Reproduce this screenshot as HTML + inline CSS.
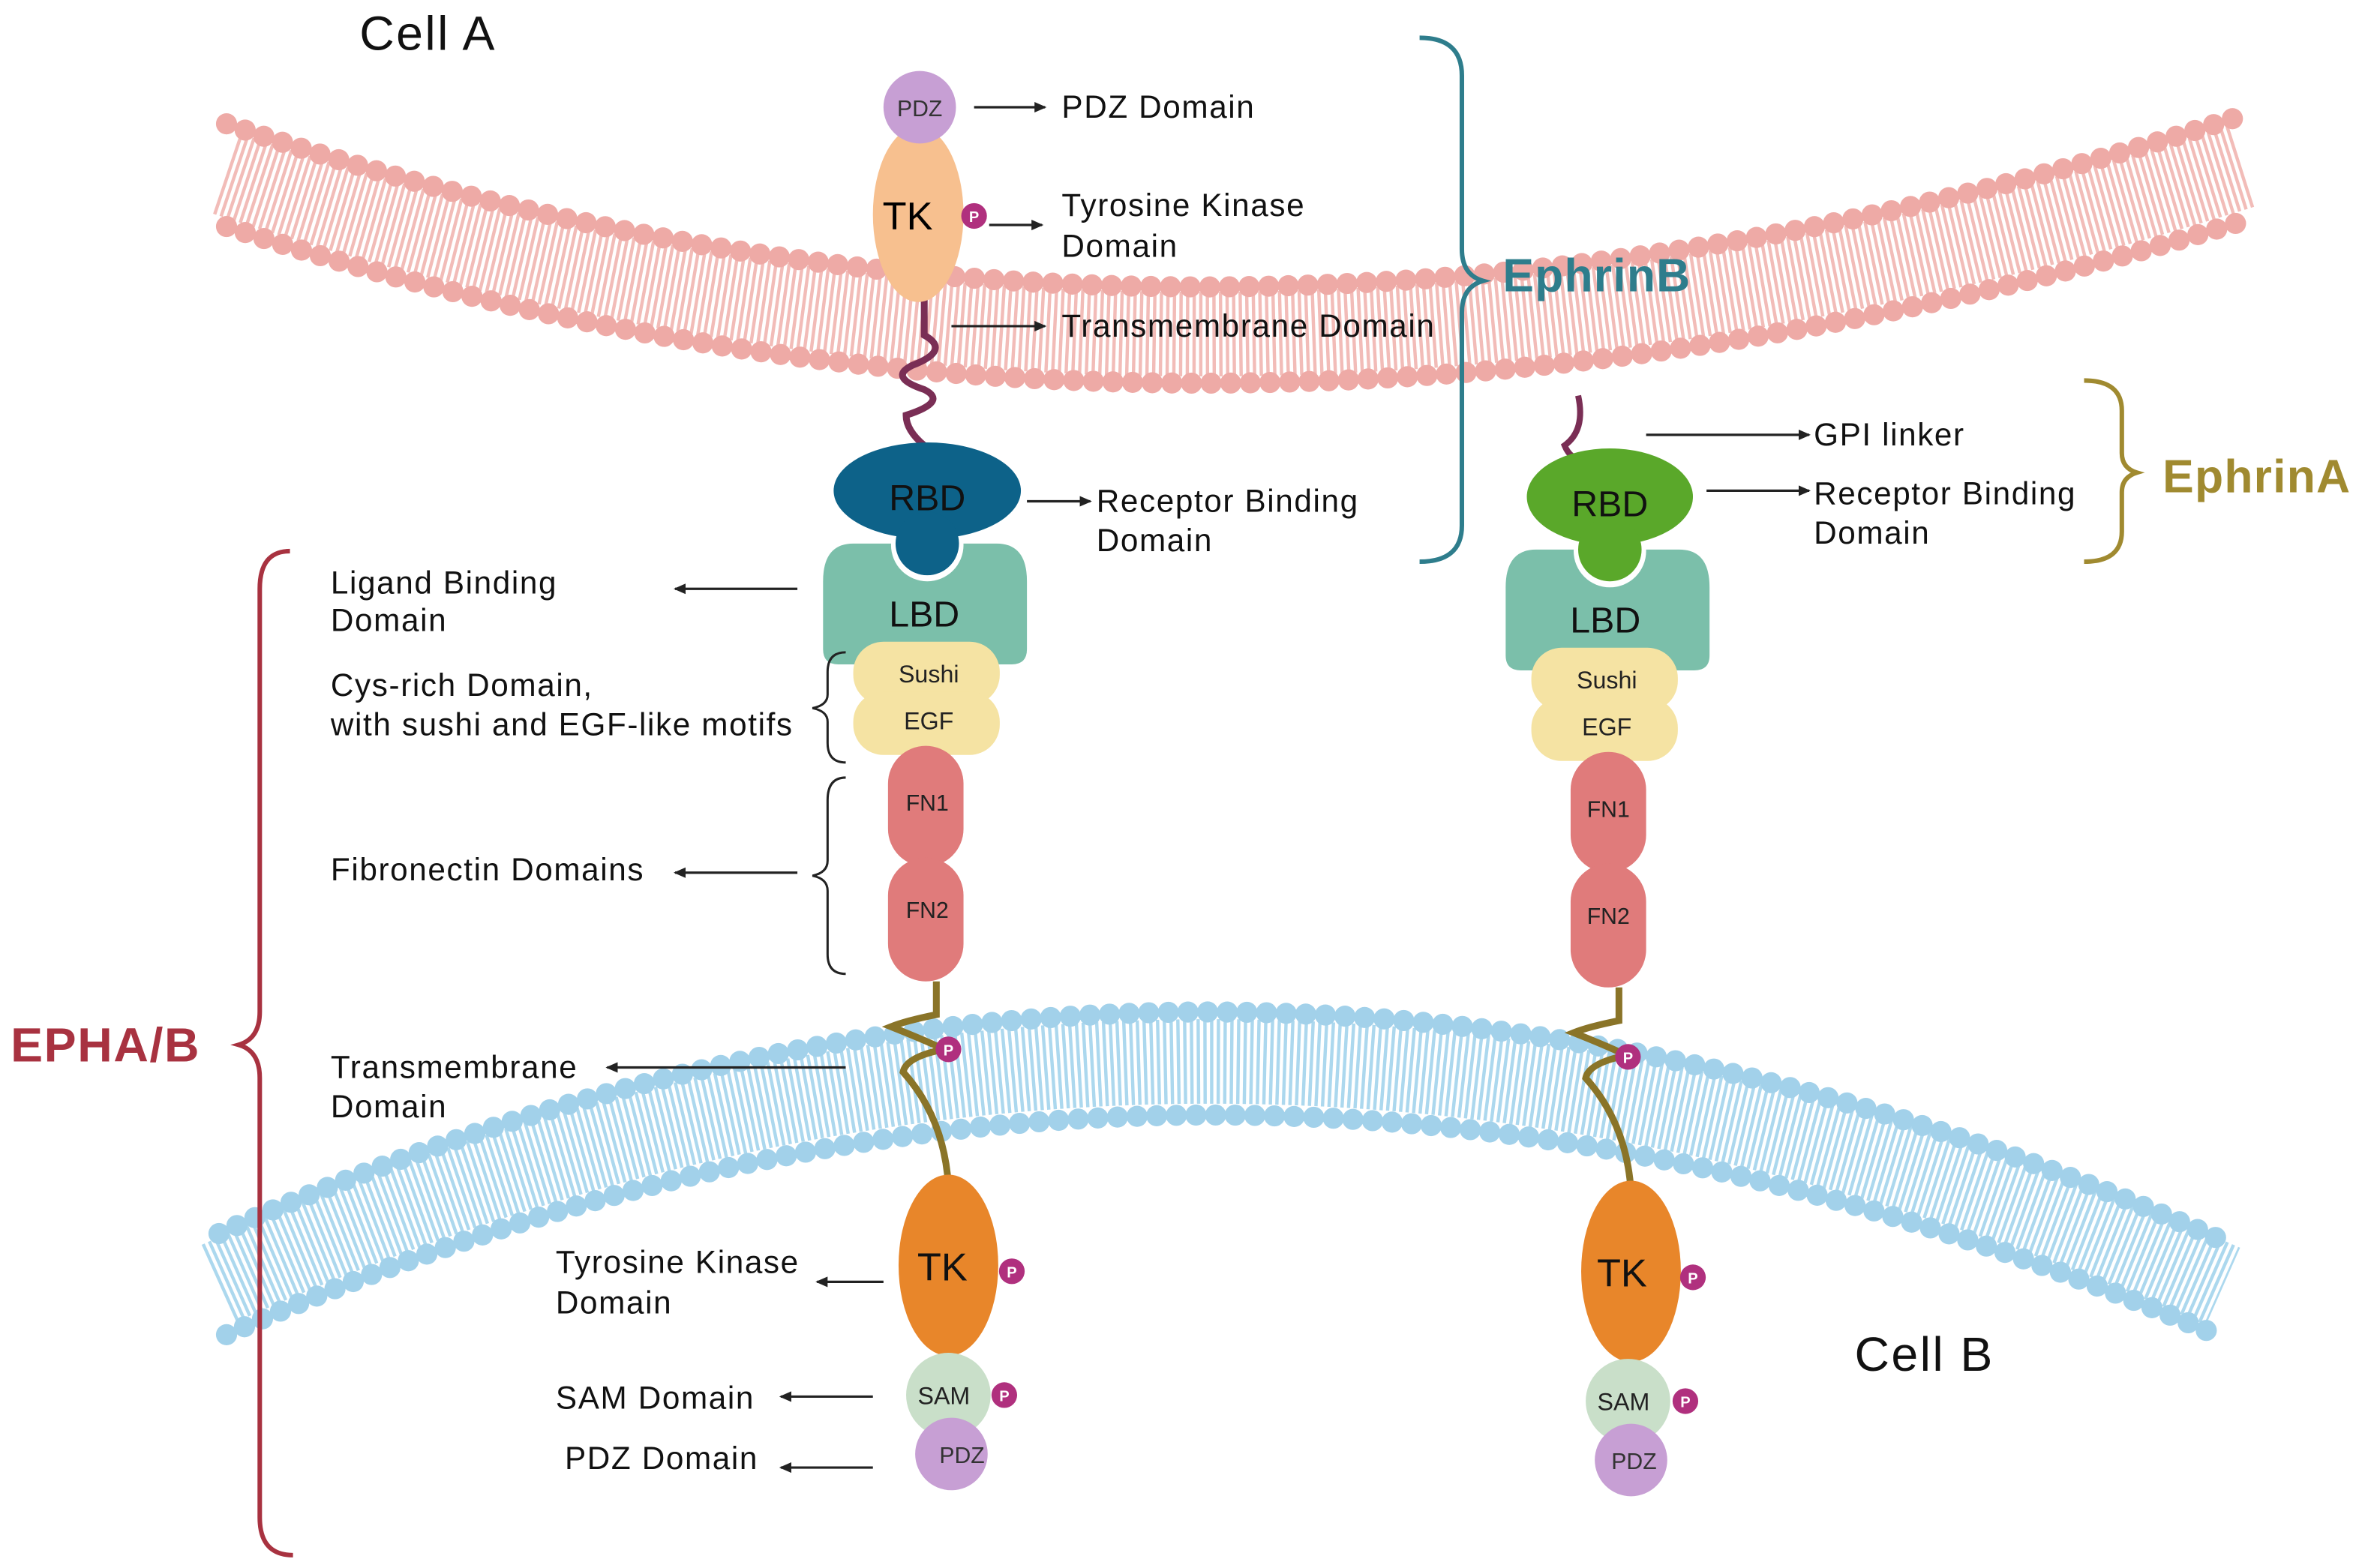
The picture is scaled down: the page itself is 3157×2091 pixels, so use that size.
<!DOCTYPE html>
<html><head><meta charset="utf-8"><style>
html,body{margin:0;padding:0;background:#fff;}
svg{display:block;}
text{font-family:"Liberation Sans",sans-serif;}
</style></head><body>
<svg width="3157" height="2091" viewBox="0 0 1568 1038.5" xmlns="http://www.w3.org/2000/svg">
<defs>
<marker id="ar" markerWidth="8" markerHeight="8" refX="7" refY="4" orient="auto" markerUnits="userSpaceOnUse"><path d="M0,0.5 L8,4 L0,7.5z" fill="#222"/></marker>
</defs>
<rect width="1568" height="1038.5" fill="#fff"/>

<!-- top pink membrane -->
<g fill="none">
<path d="M150,115 Q790,330 1485,110" stroke="#f2bcb8" stroke-width="56" stroke-dasharray="2.2 2.2"/>
<path d="M150,82 Q790,300 1480,78" stroke="#eeaaa6" stroke-width="14" stroke-linecap="round" stroke-dasharray="0 13"/>
<path d="M150,150 Q790,360 1490,145" stroke="#eeaaa6" stroke-width="14" stroke-linecap="round" stroke-dasharray="0 13"/>
</g>
<!-- bottom blue membrane -->
<g fill="none">
<path d="M145,850 Q800,555 1472,852" stroke="#acd8ee" stroke-width="56" stroke-dasharray="2.2 2.2"/>
<path d="M145,817 Q800,522 1468,820" stroke="#a2d1ea" stroke-width="14" stroke-linecap="round" stroke-dasharray="0 13"/>
<path d="M150,884 Q800,592 1472,886" stroke="#a2d1ea" stroke-width="14" stroke-linecap="round" stroke-dasharray="0 13"/>
</g>

<!-- Left EphrinB -->
<path d="M612,198 L612,222 Q630,232 604,242 Q588,250 612,258 Q628,266 600,275 Q600,285 612,295" fill="none" stroke="#7a2e55" stroke-width="4.5"/>
<ellipse cx="608" cy="142" rx="30" ry="58" fill="#f7c08f"/>
<text x="601" y="152" font-size="26" text-anchor="middle">TK</text>
<circle cx="609" cy="71" r="24" fill="#c79fd4"/>
<text x="609" y="77" font-size="15" text-anchor="middle" fill="#333">PDZ</text>
<circle cx="645" cy="143" r="8.5" fill="#b0307e"/><text x="645" y="147" font-size="10" fill="#fff" text-anchor="middle" font-weight="bold">P</text>

<!-- Left receptor -->
<path d="M620,650 L620,672 Q600,676 590,680 Q615,690 625,695 Q600,700 598,710 Q625,740 628,785" fill="none" stroke="#8a7428" stroke-width="4.5"/>
<path d="M565,360 Q545,360 545,385 L545,430 Q545,440 555,440 L670,440 Q680,440 680,430 L680,385 Q680,360 660,360 Z" fill="#7bbfaa"/>
<rect x="565" y="425" width="97" height="42" rx="20" fill="#f5e3a3"/>
<rect x="565" y="458" width="97" height="42" rx="20" fill="#f5e3a3"/>
<text x="615" y="452" font-size="16" text-anchor="middle" fill="#222">Sushi</text>
<text x="615" y="483" font-size="16" text-anchor="middle" fill="#222">EGF</text>
<rect x="588" y="494" width="50" height="80" rx="25" fill="#e07b7b"/>
<rect x="588" y="568" width="50" height="82" rx="25" fill="#e07b7b"/>
<text x="614" y="537" font-size="15" text-anchor="middle" fill="#222">FN1</text>
<text x="614" y="608" font-size="15" text-anchor="middle" fill="#222">FN2</text>
<circle cx="614" cy="361" r="24" fill="#fff"/>
<ellipse cx="614" cy="325" rx="62" ry="32" fill="#0d6289"/>
<circle cx="614" cy="360" r="21" fill="#0d6289"/>
<text x="614" y="338" font-size="24" text-anchor="middle" fill="#111">RBD</text>
<text x="612" y="415" font-size="24" text-anchor="middle" fill="#111">LBD</text>
<circle cx="628" cy="695" r="8.5" fill="#b0307e"/><text x="628" y="699" font-size="10" fill="#fff" text-anchor="middle" font-weight="bold">P</text>
<ellipse cx="628" cy="838" rx="33" ry="60" fill="#e8862a"/>
<text x="624" y="848" font-size="26" text-anchor="middle" fill="#111">TK</text>
<circle cx="670" cy="842" r="8.5" fill="#b0307e"/><text x="670" y="846" font-size="10" fill="#fff" text-anchor="middle" font-weight="bold">P</text>
<circle cx="628" cy="924" r="28" fill="#c9dfc9"/>
<text x="625" y="930" font-size="16" text-anchor="middle" fill="#222">SAM</text>
<circle cx="665" cy="924" r="8.5" fill="#b0307e"/><text x="665" y="928" font-size="10" fill="#fff" text-anchor="middle" font-weight="bold">P</text>
<circle cx="630" cy="963" r="24" fill="#c79fd4"/>
<text x="637" y="969" font-size="15" text-anchor="middle" fill="#333">PDZ</text>

<!-- Right EphrinA -->
<path d="M1045,262 Q1050,285 1036,295 Q1040,305 1050,305" fill="none" stroke="#7a2e55" stroke-width="4"/>
<path d="M1072,654 L1072,676 Q1052,680 1042,684 Q1067,694 1077,699 Q1052,704 1050,714 Q1077,744 1080,789" fill="none" stroke="#8a7428" stroke-width="4.5"/>
<path d="M1017,364 Q997,364 997,389 L997,434 Q997,444 1007,444 L1122,444 Q1132,444 1132,434 L1132,389 Q1132,364 1112,364 Z" fill="#7bbfaa"/>
<rect x="1014" y="429" width="97" height="42" rx="20" fill="#f5e3a3"/>
<rect x="1014" y="462" width="97" height="42" rx="20" fill="#f5e3a3"/>
<text x="1064" y="456" font-size="16" text-anchor="middle" fill="#222">Sushi</text>
<text x="1064" y="487" font-size="16" text-anchor="middle" fill="#222">EGF</text>
<rect x="1040" y="498" width="50" height="80" rx="25" fill="#e07b7b"/>
<rect x="1040" y="572" width="50" height="82" rx="25" fill="#e07b7b"/>
<text x="1065" y="541" font-size="15" text-anchor="middle" fill="#222">FN1</text>
<text x="1065" y="612" font-size="15" text-anchor="middle" fill="#222">FN2</text>
<circle cx="1066" cy="365" r="24" fill="#fff"/>
<ellipse cx="1066" cy="329" rx="55" ry="32" fill="#5aa82a"/>
<circle cx="1066" cy="364" r="21" fill="#5aa82a"/>
<text x="1066" y="342" font-size="24" text-anchor="middle" fill="#111">RBD</text>
<text x="1063" y="419" font-size="24" text-anchor="middle" fill="#111">LBD</text>
<circle cx="1078" cy="700" r="8.5" fill="#b0307e"/><text x="1078" y="704" font-size="10" fill="#fff" text-anchor="middle" font-weight="bold">P</text>
<ellipse cx="1080" cy="842" rx="33" ry="60" fill="#e8862a"/>
<text x="1074" y="852" font-size="26" text-anchor="middle" fill="#111">TK</text>
<circle cx="1121" cy="846" r="8.5" fill="#b0307e"/><text x="1121" y="850" font-size="10" fill="#fff" text-anchor="middle" font-weight="bold">P</text>
<circle cx="1078" cy="928" r="28" fill="#c9dfc9"/>
<text x="1075" y="934" font-size="16" text-anchor="middle" fill="#222">SAM</text>
<circle cx="1116" cy="928" r="8.5" fill="#b0307e"/><text x="1116" y="932" font-size="10" fill="#fff" text-anchor="middle" font-weight="bold">P</text>
<circle cx="1080" cy="967" r="24" fill="#c79fd4"/>
<text x="1082" y="973" font-size="15" text-anchor="middle" fill="#333">PDZ</text>

<!-- arrows -->
<g stroke="#222" stroke-width="1.6" fill="none" marker-end="url(#ar)">
<line x1="645" y1="71" x2="692" y2="71"/>
<line x1="655" y1="149" x2="690" y2="149"/>
<line x1="630" y1="216" x2="692" y2="216"/>
<line x1="680" y1="332" x2="722" y2="332"/>
<line x1="528" y1="390" x2="447" y2="390"/>
<line x1="528" y1="578" x2="447" y2="578"/>
<line x1="560" y1="707" x2="402" y2="707"/>
<line x1="585" y1="849" x2="541" y2="849"/>
<line x1="578" y1="925" x2="517" y2="925"/>
<line x1="578" y1="972" x2="517" y2="972"/>
<line x1="1090" y1="288" x2="1198" y2="288"/>
<line x1="1130" y1="325" x2="1198" y2="325"/>
</g>
<!-- small braces -->
<g fill="none" stroke="#222" stroke-width="1.5">
<path d="M560,432 Q548,432 548,445 L548,460 Q548,467 538,469 Q548,471 548,478 L548,492 Q548,505 560,505"/>
<path d="M560,515 Q548,515 548,530 L548,570 Q548,578 538,580 Q548,582 548,590 L548,632 Q548,645 560,645"/>
</g>
<!-- big braces -->
<path d="M940,25 Q968,25 968,50 L968,165 Q968,182 982,186 Q968,190 968,207 L968,348 Q968,372 940,372" fill="none" stroke="#2e7d8c" stroke-width="3"/>
<path d="M1380,252 Q1405,252 1405,272 L1405,300 Q1405,310 1415,313 Q1405,316 1405,326 L1405,352 Q1405,372 1380,372" fill="none" stroke="#a08a30" stroke-width="3"/>
<path d="M192,365 Q172,365 172,390 L172,670 Q172,688 158,692 Q172,696 172,714 L172,1005 Q172,1030 194,1030" fill="none" stroke="#a83240" stroke-width="3"/>

<!-- labels -->
<g font-size="21" fill="#111" letter-spacing="0.8">
<text x="703" y="78">PDZ Domain</text>
<text x="703" y="143">Tyrosine Kinase</text><text x="703" y="170">Domain</text>
<text x="703" y="223">Transmembrane Domain</text>
<text x="726" y="339">Receptor Binding</text><text x="726" y="365">Domain</text>
<text x="219" y="393">Ligand Binding</text><text x="219" y="418">Domain</text>
<text x="219" y="461">Cys-rich Domain,</text><text x="219" y="487">with sushi and EGF-like motifs</text>
<text x="219" y="583">Fibronectin Domains</text>
<text x="219" y="714">Transmembrane</text><text x="219" y="740">Domain</text>
<text x="368" y="843">Tyrosine Kinase</text><text x="368" y="870">Domain</text>
<text x="368" y="933">SAM Domain</text>
<text x="374" y="973">PDZ Domain</text>
<text x="1201" y="295">GPI linker</text>
<text x="1201" y="334">Receptor Binding</text><text x="1201" y="360">Domain</text>
</g>
<text x="238" y="33" font-size="32" fill="#111" letter-spacing="1.2">Cell A</text>
<text x="1228" y="908" font-size="32" fill="#111" letter-spacing="1.2">Cell B</text>
<text x="995" y="193" font-size="31" font-weight="bold" fill="#2e7d8c" letter-spacing="0.6">EphrinB</text>
<text x="1432" y="326" font-size="31" font-weight="bold" fill="#a08a30" letter-spacing="0.6">EphrinA</text>
<text x="7" y="703" font-size="32" font-weight="bold" fill="#a83240" letter-spacing="0.8">EPHA/B</text>
</svg>
</body></html>
